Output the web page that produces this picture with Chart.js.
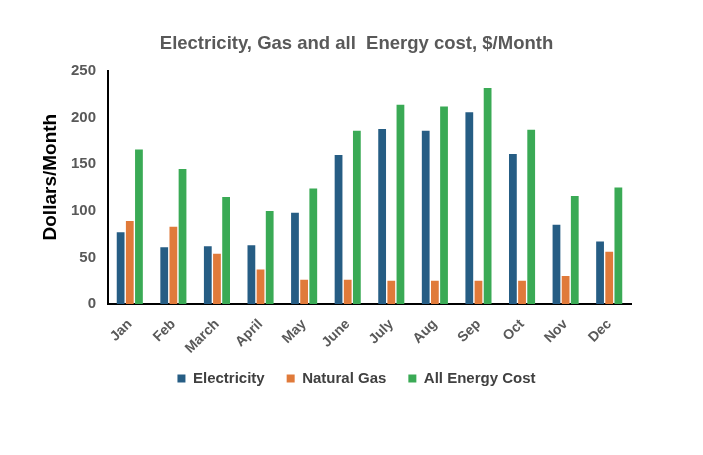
<!DOCTYPE html>
<html>
<head>
<meta charset="utf-8">
<script src="https://cdn.jsdelivr.net/npm/chart.js@4"></script>
<style>
  html, body { margin: 0; padding: 0; background: #fff; }
  #wrap { width: 703px; height: 455px; position: relative; }
</style>
</head>
<body>
<div id="wrap"><canvas id="chart"></canvas></div>
<script>
const months = ["Jan", "Feb", "March", "April", "May", "June", "July", "Aug", "Sep", "Oct", "Nov", "Dec"];
const electricity = [77, 61, 62, 63, 98, 160, 188, 186, 206, 161, 85, 67];
const naturalGas = [89, 83, 54, 37, 26, 26, 25, 25, 25, 25, 30, 56];
const allEnergy = [166, 145, 115, 100, 124, 186, 214, 212, 232, 187, 116, 125];
const yTicks = [0, 50, 100, 150, 200, 250];
const yTitle = "Dollars/Month";

const FONT = "'Liberation Sans', Arial, sans-serif";
const GREY = "#595959";

// the legend sits closer to the month labels than Chart.js spacing allows
const legendLift = {
  id: "legendLift",
  afterLayout(chart) {
    chart.legend.top -= 12;
    chart.legend.bottom -= 12;
  }
};

// y axis title sits a bit above the middle of the axis in the original
const yAxisTitle = {
  id: "yAxisTitle",
  afterDraw(chart) {
    const { ctx, chartArea, scales } = chart;
    const cy = chartArea.top + (chartArea.bottom - chartArea.top) * 0.455;
    ctx.save();
    ctx.translate(scales.y.left + 10, cy);
    ctx.rotate(-Math.PI / 2);
    ctx.textAlign = "center";
    ctx.textBaseline = "middle";
    ctx.fillStyle = "#000";
    ctx.font = "bold 19px " + FONT;
    ctx.fillText(yTitle, 0, 0);
    ctx.restore();
  }
};

new Chart(document.getElementById("chart"), {
  type: "bar",
  data: {
    labels: months,
    datasets: [
      { label: "Electricity", data: electricity, backgroundColor: "#265d84" },
      { label: "Natural Gas", data: naturalGas, backgroundColor: "#e07a3a" },
      { label: "All Energy Cost", data: allEnergy, backgroundColor: "#3aaa55" }
    ]
  },
  plugins: [legendLift, yAxisTitle],
  options: {
    responsive: true,
    maintainAspectRatio: false,
    animation: false,
    datasets: {
      bar: { categoryPercentage: 0.63, barPercentage: 0.85 }
    },
    layout: { padding: { left: 41, right: 31, top: 0, bottom: 47 } },
    scales: {
      x: {
        grid: { display: false },
        border: { display: true, color: "#000", width: 2 },
        ticks: {
          color: GREY,
          font: { family: FONT, size: 14, weight: "bold" },
          maxRotation: 45,
          minRotation: 45,
          padding: 4
        },
        afterFit: (scale) => { scale.height = 57; }
      },
      y: {
        min: 0,
        max: 250,
        afterBuildTicks: (scale) => { scale.ticks = yTicks.map(v => ({ value: v })); },
        grid: { display: false, drawTicks: false },
        border: { display: true, color: "#000", width: 2 },
        ticks: {
          color: GREY,
          font: { family: FONT, size: 15, weight: "bold" },
          padding: 12
        },
        afterFit: (scale) => { scale.width = 67; }
      },
      // empty right-hand spacer so the plot ends where the reference does
      spacer: {
        type: "linear",
        position: "right",
        display: true,
        grid: { display: false, drawTicks: false },
        border: { display: false },
        ticks: { display: false },
        afterFit: (scale) => { scale.width = 41; }
      }
    },
    plugins: {
      title: {
        display: true,
        text: "Electricity, Gas and all  Energy cost, $/Month",
        color: GREY,
        font: { family: FONT, size: 18.5, weight: "bold" },
        padding: { top: 33, bottom: 16 }
      },
      legend: {
        position: "bottom",
        labels: {
          color: "#404040",
          font: { family: FONT, size: 15, weight: "bold" },
          boxWidth: 8,
          boxHeight: 8,
          padding: 22
        }
      },
      tooltip: { enabled: false }
    }
  }
});
</script>
</body>
</html>
